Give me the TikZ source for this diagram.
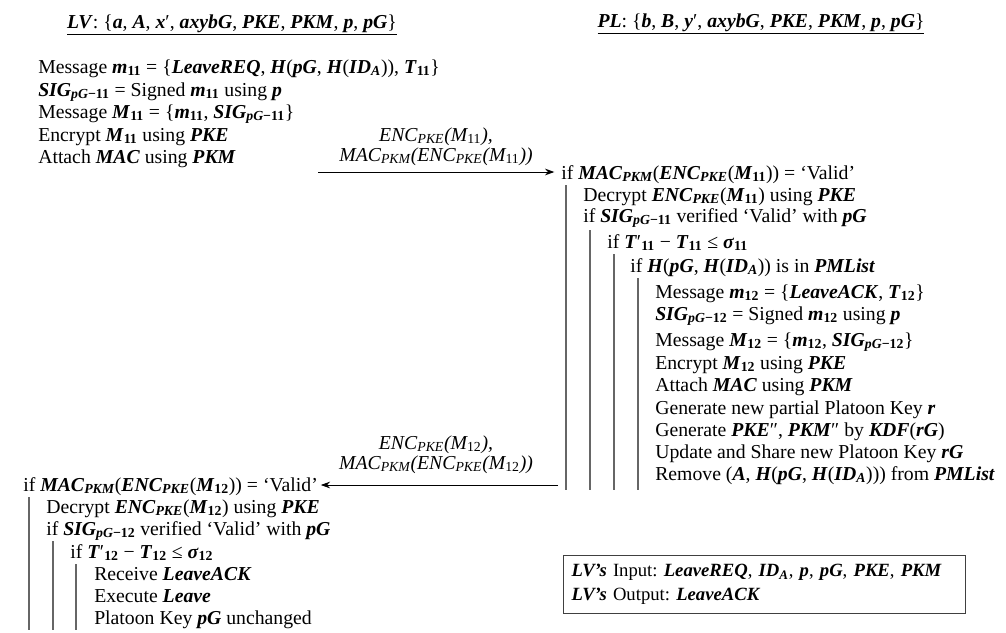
\documentclass[tikz,border=0pt]{standalone}
\usepackage{fontspec}
\setmainfont{Liberation Serif}
\usetikzlibrary{arrows.meta}
% bold italic symbols and their subscripts
\newcommand\bfi[1]{\textbf{\textit{#1}}}
\newcommand\lo[1]{\textsubscript{\bfseries #1}}
\newcommand\li[1]{\textsubscript{#1}}
\frenchspacing
\begin{document}
\begin{tikzpicture}[x=0.75pt,y=-0.75pt,
  every node/.style={inner sep=0pt, font=\fontsize{14.8}{17}\selectfont},
  row/.style={anchor=base west},
  head/.style={anchor=base},
  lbl/.style={anchor=base, font=\fontsize{14.8}{17}\selectfont\itshape},
  bar/.style={black!60, line width=0.9pt},
  msg/.style={-{Stealth[length=7pt,width=5pt]}, line width=0.7pt}]
\useasboundingbox (0,0) rectangle (1006,632);

% column headings
\node[head] (hlv) at (232,28) {\underline{\bfi{LV}: \{\bfi{a}, \bfi{A}, \bfi{x}′, \bfi{axybG}, \bfi{PKE}, \bfi{PKM}, \bfi{p}, \bfi{pG}\}}};
\node[head] (hpl) at (761,27) {\underline{\bfi{PL}: \{\bfi{b}, \bfi{B}, \bfi{y}′, \bfi{axybG}, \bfi{PKE}, \bfi{PKM}, \bfi{p}, \bfi{pG}\}}};

% LV: leave request
\node[row] (a1) at (38,73)  {Message \bfi{m}\lo{11} = \{\bfi{LeaveREQ}, \bfi{H}(\bfi{pG}, \bfi{H}(\bfi{ID}\lo{\itshape A})), \bfi{T}\lo{11}\}};
\node[row] (a2) at (38,96)  {\bfi{SIG}\lo{\itshape pG\upshape −11} = Signed \bfi{m}\lo{11} using \bfi{p}};
\node[row] (a3) at (38,118) {Message \bfi{M}\lo{11} = \{\bfi{m}\lo{11}, \bfi{SIG}\lo{\itshape pG\upshape −11}\}};
\node[row] (a4) at (38,141) {Encrypt \bfi{M}\lo{11} using \bfi{PKE}};
\node[row] (a5) at (38,163) {Attach \bfi{MAC} using \bfi{PKM}};

% first message
\coordinate (s1) at (318,172);
\node[lbl] (l1a) at (436,141) {ENC\li{PKE}(M\li{\upshape 11}),};
\node[lbl] (l1b) at (436,161) {MAC\li{PKM}(ENC\li{PKE}(M\li{\upshape 11}))};

% PL: checks and reply
\node[row] (p0)  at (561,179) {if \bfi{MAC}\lo{\itshape PKM}(\bfi{ENC}\lo{\itshape PKE}(\bfi{M}\lo{11})) = `Valid'};
\node[row] (p1)  at (583,201) {Decrypt \bfi{ENC}\lo{\itshape PKE}(\bfi{M}\lo{11}) using \bfi{PKE}};
\node[row] (p2)  at (583,222) {if \bfi{SIG}\lo{\itshape pG\upshape −11} verified `Valid' with \bfi{pG}};
\node[row] (p3)  at (607,248) {if \bfi{T}′\lo{11} − \bfi{T}\lo{11} ≤ \bfi{σ}\lo{11}};
\node[row] (p4)  at (630,272) {if \bfi{H}(\bfi{pG}, \bfi{H}(\bfi{ID}\lo{\itshape A})) is in \bfi{PMList}};
\node[row] (p5)  at (655,298) {Message \bfi{m}\lo{12} = \{\bfi{LeaveACK}, \bfi{T}\lo{12}\}};
\node[row] (p6)  at (655,320) {\bfi{SIG}\lo{\itshape pG\upshape −12} = Signed \bfi{m}\lo{12} using \bfi{p}};
\node[row] (p7)  at (655,346) {Message \bfi{M}\lo{12} = \{\bfi{m}\lo{12}, \bfi{SIG}\lo{\itshape pG\upshape −12}\}};
\node[row] (p8)  at (655,369) {Encrypt \bfi{M}\lo{12} using \bfi{PKE}};
\node[row] (p9)  at (655,391) {Attach \bfi{MAC} using \bfi{PKM}};
\node[row] (p10) at (655,414) {Generate new partial Platoon Key \bfi{r}};
\node[row] (p11) at (655,436) {Generate \bfi{PKE}″, \bfi{PKM}″ by \bfi{KDF}(\bfi{rG})};
\node[row] (p12) at (655,458) {Update and Share new Platoon Key \bfi{rG}};
\node[row] (p13) at (655,480) {Remove (\bfi{A}, \bfi{H}(\bfi{pG}, \bfi{H}(\bfi{ID}\lo{\itshape A}))) from \bfi{PMList}};

% nesting bars of the PL checks
\draw[bar] (566,185) -- (566,490);
\draw[bar] (590,230) -- (590,490);
\draw[bar] (614,254) -- (614,490);
\draw[bar] (638,278) -- (638,490);

% second message
\coordinate (s2) at (558,485);
\node[lbl] (l2a) at (436,449) {ENC\li{PKE}(M\li{\upshape 12}),};
\node[lbl] (l2b) at (436,469) {MAC\li{PKM}(ENC\li{PKE}(M\li{\upshape 12}))};

% LV: acknowledgement checks
\node[row] (b0) at (23,491) {if \bfi{MAC}\lo{\itshape PKM}(\bfi{ENC}\lo{\itshape PKE}(\bfi{M}\lo{12})) = `Valid'};
\node[row] (b1) at (46,513) {Decrypt \bfi{ENC}\lo{\itshape PKE}(\bfi{M}\lo{12}) using \bfi{PKE}};
\node[row] (b2) at (46,535) {if \bfi{SIG}\lo{\itshape pG\upshape −12} verified `Valid' with \bfi{pG}};
\node[row] (b3) at (70,558) {if \bfi{T}′\lo{12} − \bfi{T}\lo{12} ≤ \bfi{σ}\lo{12}};
\node[row] (b4) at (94,580) {Receive \bfi{LeaveACK}};
\node[row] (b5) at (94,602) {Execute \bfi{Leave}};
\node[row] (b6) at (94,624) {Platoon Key \bfi{pG} unchanged};

\draw[bar] (29,497) -- (29,630);
\draw[bar] (53,541) -- (53,630);
\draw[bar] (76,564) -- (76,630);

% message arrows
\draw[msg] (s1) -- ([xshift=-5pt]p0.west |- s1);
\draw[msg] (s2) -- ([xshift=2pt]b0.east |- s2);

% input / output summary
\node[draw=black!75, line width=0.8pt, anchor=north west, minimum height=58*0.75pt,
      text width=386*0.75pt, inner xsep=8*0.75pt, align=left,
      font=\fontsize{14}{18}\selectfont] (io) at (563,555)
  {\bfi{LV’s} Input: \bfi{LeaveREQ}, \bfi{ID}\lo{\itshape A}, \bfi{p}, \bfi{pG}, \bfi{PKE}, \bfi{PKM}\\
   \bfi{LV’s} Output: \bfi{LeaveACK}};
\end{tikzpicture}
\end{document}
